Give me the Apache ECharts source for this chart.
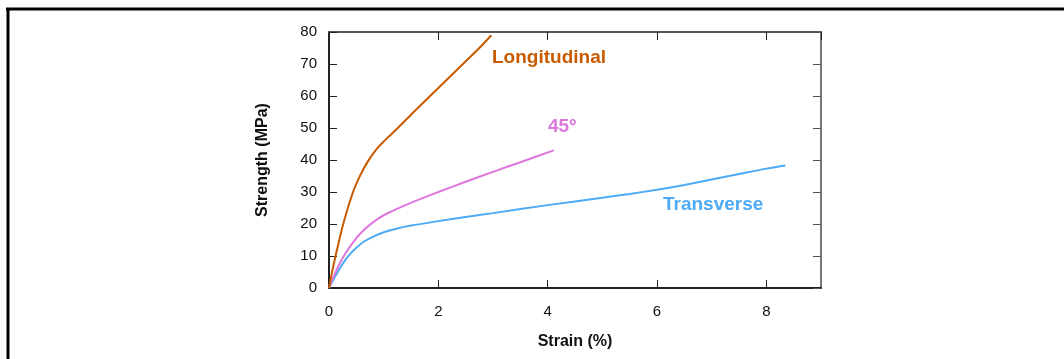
<!DOCTYPE html>
<html>
<head>
<meta charset="utf-8">
<script src="https://cdn.jsdelivr.net/npm/echarts@6/dist/echarts.min.js"></script>
<style>
  html, body { margin: 0; padding: 0; background: #fff; }
  #chart { width: 1064px; height: 359px; }
</style>
</head>
<body>
<div id="chart"></div>
<script>
// strain (%), strength (MPa)
const longitudinal = [
  [0, 0], [0.05, 4.5], [0.12, 10], [0.26, 20], [0.44, 30], [0.58, 35.5],
  [0.72, 39.8], [0.86, 43.2], [1.0, 45.8], [1.26, 50], [1.55, 55], [1.85, 60],
  [2.15, 65], [2.45, 70], [2.75, 75], [2.97, 79]
];
const deg45 = [
  [0, 0], [0.1, 4.2], [0.2, 7.8], [0.3, 10.8], [0.45, 14.5], [0.6, 17.5],
  [0.75, 19.8], [0.9, 21.7], [1.1, 23.6], [1.4, 25.9], [1.7, 28], [2.0, 30],
  [2.5, 33.2], [3.0, 36.3], [3.5, 39.3], [4.11, 43]
];
const transverse = [
  [0, 0], [0.1, 3.2], [0.2, 6.2], [0.3, 8.8], [0.4, 10.9], [0.5, 12.6],
  [0.65, 14.6], [0.8, 16], [1.0, 17.4], [1.25, 18.6], [1.5, 19.5], [2, 20.9],
  [2.5, 22.2], [3, 23.4], [4, 25.9], [5, 28.2], [5.5, 29.4], [6, 30.7],
  [6.5, 32.2], [7, 33.9], [7.5, 35.6], [8, 37.3], [8.35, 38.3]
];
const seriesNames = ['Longitudinal', '45º', 'Transverse'];
const seriesColors = ['#c85a00', '#dd77dd', '#4eaaf5'];

const font = 'Liberation Sans, Arial, sans-serif';
const chart = echarts.init(document.getElementById('chart'));

const mkSeries = (data, i) => ({
  name: seriesNames[i],
  type: 'line',
  data: data,
  smooth: 0.25,
  showSymbol: false,
  lineStyle: { color: seriesColors[i], width: 2 },
  itemStyle: { color: seriesColors[i] },
  z: 3 - i
});

const tick = { inside: true, length: 8, lineStyle: { color: '#222', width: 1 } };

chart.setOption({
  animation: false,
  grid: { left: 329, top: 32, width: 492, height: 256 },
  xAxis: [{
    type: 'value', min: 0, max: 9, interval: 2,
    name: 'Strain (%)', nameLocation: 'middle', nameGap: 46,
    nameTextStyle: { fontFamily: font, fontSize: 16, fontWeight: 'bold', color: '#111' },
    axisLine: { show: true, onZero: false, lineStyle: { color: '#222', width: 2 } },
    axisTick: tick,
    axisLabel: { showMaxLabel: false, margin: 16, fontFamily: font, fontSize: 15, color: '#111' },
    splitLine: { show: false }
  }, {
    type: 'value', min: 0, max: 9, interval: 2, position: 'top',
    axisLine: { show: true, onZero: false, lineStyle: { color: '#555', width: 2 } },
    axisTick: tick,
    axisLabel: { show: false },
    splitLine: { show: false }
  }],
  yAxis: [{
    type: 'value', min: 0, max: 80, interval: 10,
    name: 'Strength (MPa)', nameLocation: 'middle', nameGap: 58, nameRotate: 90,
    nameTextStyle: { fontFamily: font, fontSize: 16, fontWeight: 'bold', color: '#111' },
    axisLine: { show: true, onZero: false, lineStyle: { color: '#222', width: 2 } },
    axisTick: tick,
    axisLabel: { margin: 12, fontFamily: font, fontSize: 15, color: '#111' },
    splitLine: { show: false }
  }, {
    type: 'value', min: 0, max: 80, interval: 10, position: 'right',
    axisLine: { show: true, onZero: false, lineStyle: { color: '#777', width: 2 } },
    axisTick: { inside: true, length: 8, lineStyle: { color: '#555', width: 1 } },
    axisLabel: { show: false },
    splitLine: { show: false }
  }],
  series: [mkSeries(longitudinal, 0), mkSeries(deg45, 1), mkSeries(transverse, 2)],
  graphic: [
    { type: 'line', shape: { x1: 6, y1: 9, x2: 1064, y2: 9 }, style: { stroke: '#000', lineWidth: 3 } },
    { type: 'line', shape: { x1: 8, y1: 8, x2: 8, y2: 359 }, style: { stroke: '#000', lineWidth: 3 } },
    { type: 'text', left: 492, top: 48, style: { text: seriesNames[0], fill: seriesColors[0], font: 'bold 19px ' + font } },
    { type: 'text', left: 548, top: 117, style: { text: seriesNames[1], fill: seriesColors[1], font: 'bold 19px ' + font } },
    { type: 'text', left: 663, top: 195, style: { text: seriesNames[2], fill: seriesColors[2], font: 'bold 19px ' + font } }
  ]
});

window.addEventListener('resize', () => chart.resize());
</script>
</body>
</html>
